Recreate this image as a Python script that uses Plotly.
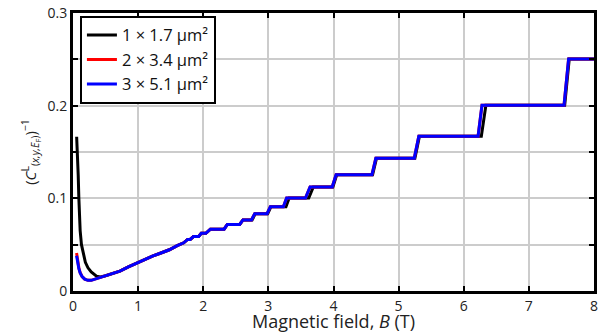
import plotly.graph_objects as go

# Magnetic field (T) and inverse values
B_blue = [0.055, 0.07, 0.09, 0.11, 0.14, 0.18, 0.23, 0.28, 0.34, 0.42, 0.5, 0.6, 0.72, 0.85, 0.97,
          1.1, 1.22, 1.35, 1.48, 1.6, 1.7, 1.76, 1.8, 1.85, 1.93, 1.97,
          2.04, 2.11, 2.32, 2.37, 2.56, 2.61, 2.74, 2.79, 2.98, 3.03, 3.23, 3.28, 3.57, 3.64,
          3.98, 4.04, 4.59, 4.65, 5.24, 5.31, 6.22, 6.28, 7.54, 7.61, 8.0]
v_blue = [0.038, 0.031, 0.024, 0.0195, 0.0155, 0.0128, 0.0115, 0.0115, 0.0128, 0.0148, 0.0165, 0.019, 0.0215, 0.026, 0.030,
          0.034, 0.0377, 0.041, 0.0445, 0.049, 0.052, 0.0556, 0.0556, 0.0588, 0.0588, 0.0622,
          0.0622, 0.0667, 0.0667, 0.0718, 0.0718, 0.0767, 0.0767, 0.0835, 0.0835, 0.091, 0.091, 0.1003, 0.1003, 0.1122,
          0.1122, 0.1254, 0.1254, 0.1432, 0.1432, 0.1670, 0.1670, 0.2005, 0.2005, 0.2505, 0.2505]

B_red = [0.055, 0.07, 0.09, 0.11, 0.14, 0.18, 0.23, 0.28, 0.34, 0.42, 0.5, 0.6, 0.72, 0.85, 0.97,
         1.1, 1.22, 1.35, 1.48, 1.6, 1.7, 1.76, 1.8, 1.85, 1.93, 1.97,
         2.04, 2.11, 2.32, 2.37, 2.56, 2.61, 2.74, 2.79, 2.98, 3.03, 3.23, 3.28, 3.57, 3.64,
         3.98, 4.04, 4.59, 4.65, 5.24, 5.31, 6.22, 6.28, 7.54, 7.61, 8.0]
v_red = [0.041, 0.033, 0.025, 0.0198, 0.0156, 0.0128, 0.0115, 0.0115, 0.0128, 0.0148, 0.0165, 0.019, 0.0215, 0.026, 0.030,
         0.034, 0.0377, 0.041, 0.0445, 0.049, 0.052, 0.0556, 0.0556, 0.0588, 0.0588, 0.0622,
         0.0622, 0.0667, 0.0667, 0.0718, 0.0718, 0.0767, 0.0767, 0.0835, 0.0835, 0.091, 0.091, 0.1003, 0.1003, 0.1122,
         0.1122, 0.1254, 0.1254, 0.1432, 0.1432, 0.1670, 0.1670, 0.2005, 0.2005, 0.2505, 0.2505]

B_black = [0.056, 0.07, 0.08, 0.09, 0.1, 0.11, 0.13, 0.157, 0.19, 0.23, 0.28, 0.36, 0.42, 0.5, 0.6, 0.72, 0.85, 0.97,
           1.1, 1.22, 1.35, 1.48, 1.6, 1.7, 1.76, 1.8, 1.85, 1.93, 1.97,
           2.04, 2.11, 2.32, 2.37, 2.56, 2.61, 2.75, 2.80, 2.99, 3.04, 3.27, 3.32, 3.62, 3.69,
           3.99, 4.05, 4.60, 4.66, 5.25, 5.32, 6.27, 6.34, 7.55, 7.62, 8.0]
v_black = [0.1665, 0.15, 0.125, 0.1, 0.08, 0.065, 0.05, 0.04, 0.031, 0.025, 0.0205, 0.016, 0.0152, 0.0165, 0.019, 0.0215, 0.026, 0.030,
           0.034, 0.0377, 0.041, 0.0445, 0.049, 0.052, 0.0556, 0.0556, 0.0588, 0.0588, 0.0622,
           0.0622, 0.0667, 0.0667, 0.0718, 0.0718, 0.0767, 0.0767, 0.0835, 0.0835, 0.091, 0.091, 0.1003, 0.1003, 0.1122,
           0.1122, 0.1254, 0.1254, 0.1432, 0.1432, 0.1670, 0.1670, 0.2005, 0.2005, 0.2505, 0.2505]

names = ["1 × 1.7 µm²", "2 × 3.4 µm²", "3 × 5.1 µm²"]
x_ticks = [0, 1, 2, 3, 4, 5, 6, 7, 8]
y_ticks = [0, 0.05, 0.1, 0.15, 0.2, 0.25, 0.3]
y_ticktext = ["0", "", "0.1", "", "0.2", "", "0.3"]

font = "Open Sans, Noto Sans, sans-serif"

fig = go.Figure()
fig.add_trace(go.Scatter(x=B_black, y=v_black, mode="lines", name=names[0],
                         line=dict(color="#000000", width=3)))
fig.add_trace(go.Scatter(x=B_red, y=v_red, mode="lines", name=names[1],
                         line=dict(color="#ff0000", width=3)))
fig.add_trace(go.Scatter(x=B_blue, y=v_blue, mode="lines", name=names[2],
                         line=dict(color="#0000ff", width=3)))

axis_common = dict(
    showline=True, linecolor="#000000", linewidth=3, mirror="ticks",
    ticks="inside", ticklen=5, tickwidth=2, tickcolor="#000000",
    showgrid=True, gridcolor="#cccccc", gridwidth=2,
    zeroline=False, tickfont=dict(family=font, size=14, color="#222222"),
    ticklabeloverflow="allow",
)

fig.update_layout(
    width=601, height=333,
    margin=dict(l=73, r=3, t=10, b=42),
    plot_bgcolor="white", paper_bgcolor="white",
    font=dict(family=font, color="#222222"),
    xaxis=dict(range=[0, 8.0001], tickvals=x_ticks,
               title=dict(text="Magnetic field, <i>B</i> (T)", font=dict(family=font, size=18), standoff=2),
               **axis_common),
    yaxis=dict(range=[0, 0.30002], tickvals=y_ticks, ticktext=y_ticktext,
               title=dict(text="(<i>C</i><sup>L</sup><sub>(<i>x,y,E</i><sub>F</sub>)</sub>)<sup>−1</sup>",
                          font=dict(family=font, size=15), standoff=8),
               **axis_common),
    legend=dict(x=0.0133, y=0.99, xanchor="left", yanchor="top",
                bordercolor="#000000", borderwidth=2, bgcolor="white",
                font=dict(family=font, size=16.5, color="#111111"),
                tracegroupgap=0, itemwidth=30),
    showlegend=True,
)

fig.write_html("out.html")
